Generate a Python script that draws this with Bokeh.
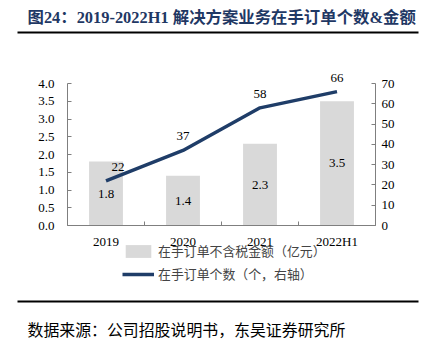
import numpy as np
from bokeh.plotting import figure
from bokeh.models import (Range1d, LinearAxis, FixedTicker, ColumnDataSource, Label,
                          Legend, LegendItem, BoxAnnotation)
from bokeh.core.properties import value
from bokeh.embed import file_html
from bokeh.resources import INLINE

categories = ["2019", "2020", "2021", "2022H1"]
amount = [1.8, 1.4, 2.3, 3.5]          # 在手订单不含税金额（亿元）
count = [22, 37, 58, 66]               # 在手订单个数（个，右轴）
left_ticks = [0.0, 0.5, 1.0, 1.5, 2.0, 2.5, 3.0, 3.5, 4.0]
right_ticks = [0, 10, 20, 30, 40, 50, 60, 70]

title_text = "图24：2019-2022H1 解决方案业务在手订单个数&金额"
source_text = "数据来源：公司招股说明书，东吴证券研究所"
bar_name = "在手订单不含税金额（亿元）"
line_name = "在手订单个数（个，右轴）"

SERIF = "Liberation Serif, Noto Sans CJK SC"
CJK = "Noto Sans CJK SC"
NAVY = "#1f3d68"
BAR = "#d9d9d9"
AXC = "#7f7f7f"
W, H = 426, 342

# page-pixel layout of the plotting area (frame spans the whole canvas)
PX_L, PX_R = 67, 375      # x of first / last category boundary
PY_T, PY_B = 83, 225      # y (from top) of axis max / zero
L_MAX, R_MAX = 4.0, 70.0
n = len(categories)
xu = (PX_R - PX_L) / n
yu = (PY_B - PY_T) / L_MAX
ry = R_MAX / L_MAX

x = np.arange(n) + 0.5
src = ColumnDataSource(dict(
    x=x, amount=amount, half=[a / 2 for a in amount],
    amount_lbl=["%.1f" % a for a in amount],
    count=count, count_lbl=[str(c) for c in count],
    xoff=[12, 0, 0, 0],
))

p = figure(width=W, height=H, output_backend="svg", toolbar_location=None,
           x_range=Range1d(-PX_L / xu, n + (W - PX_R) / xu),
           y_range=Range1d(-(H - PY_B) / yu, PY_B / yu),
           min_border=0, x_axis_location=None, y_axis_location=None)
p.outline_line_color = None
p.grid.visible = False
p.border_fill_color = "white"
p.background_fill_color = "white"
p.extra_y_ranges = {"right": Range1d(-(H - PY_B) / yu * ry, PY_B / yu * ry)}


def style_axis(ax):
    ax.axis_line_color = AXC
    ax.major_tick_line_color = AXC
    ax.minor_tick_line_color = AXC
    ax.major_tick_in = 4
    ax.major_tick_out = 0
    ax.minor_tick_in = 0
    ax.minor_tick_out = 0
    ax.major_label_text_font = SERIF
    ax.major_label_text_font_size = "13px"
    ax.major_label_text_color = "#000000"


yl = LinearAxis(ticker=FixedTicker(ticks=left_ticks), bounds=(0, L_MAX), fixed_location=0)
style_axis(yl)
yl.major_label_overrides = {t: "%.1f" % t for t in left_ticks}
yl.major_label_standoff = 13
p.add_layout(yl, "left")

yr = LinearAxis(y_range_name="right", ticker=FixedTicker(ticks=right_ticks),
                bounds=(0, R_MAX), fixed_location=n)
style_axis(yr)
yr.major_label_standoff = 6
p.add_layout(yr, "right")

xa = LinearAxis(ticker=FixedTicker(ticks=list(x), minor_ticks=list(range(n + 1))),
                bounds=(0, n), fixed_location=0)
style_axis(xa)
xa.major_tick_in = 0
xa.minor_tick_in = 4
xa.major_label_overrides = {float(v): c for v, c in zip(x, categories)}
xa.major_label_standoff = 8
p.add_layout(xa, "below")

bars = p.vbar(x="x", top="amount", width=0.44, source=src, fill_color=BAR, line_color=None)
line = p.line(x="x", y="count", source=src, y_range_name="right", line_color=NAVY, line_width=3.5)

p.text(x="x", y="half", text="amount_lbl", source=src, text_align="center",
       text_baseline="middle", text_font=value(SERIF), text_font_size="13px", text_color="#000000")
p.text(x="x", y="count", text="count_lbl", source=src, y_range_name="right",
       text_align="center", text_baseline="bottom", y_offset=-10, x_offset="xoff",
       text_font=value(SERIF), text_font_size="13px", text_color="#000000")

legend = Legend(items=[LegendItem(label=bar_name, renderers=[bars]),
                       LegendItem(label=line_name, renderers=[line])],
                location=(122, H - 283), orientation="vertical",
                background_fill_alpha=0, border_line_color=None,
                padding=0, margin=0, spacing=4, glyph_width=32, glyph_height=16,
                label_standoff=4, label_text_font=CJK, label_text_font_size="12.9px",
                label_height=16)
p.add_layout(legend, "center")

p.add_layout(Label(x=27, y=H - 17, x_units="screen", y_units="screen", text=title_text,
                   text_font=SERIF, text_font_size="16.4px", text_font_style="bold",
                   text_color="#1f3864", text_baseline="middle"))
p.add_layout(Label(x=27, y=H - 329, x_units="screen", y_units="screen", text=source_text,
                   text_font=CJK, text_font_size="15.9px", text_color="#000000",
                   text_baseline="middle"))
for yl_px in (32, 301):
    p.add_layout(BoxAnnotation(left=17, right=418, bottom=H - yl_px - 1, top=H - yl_px + 1,
                               left_units="screen", right_units="screen",
                               bottom_units="screen", top_units="screen",
                               fill_color="#000000", fill_alpha=1, line_color=None))

with open("out.html", "w") as f:
    f.write(file_html(p, INLINE))
